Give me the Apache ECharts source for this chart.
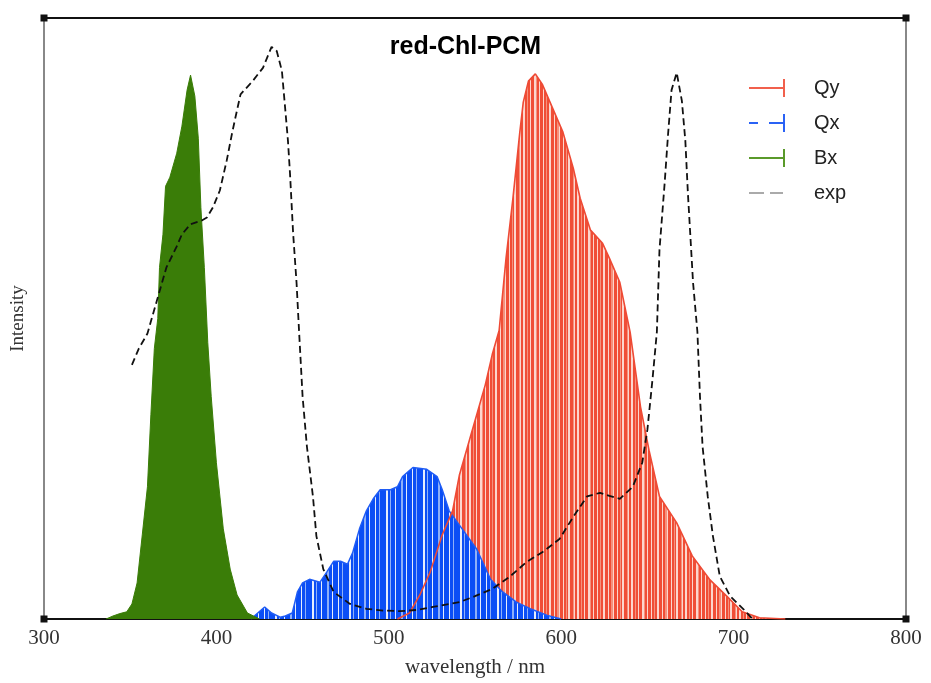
<!DOCTYPE html>
<html><head><meta charset="utf-8">
<script src="https://cdn.jsdelivr.net/npm/echarts@6/dist/echarts.min.js"></script>
<style>html,body{margin:0;padding:0;background:#fff}#c{width:931px;height:683px}</style>
</head><body><div id="c"></div>
<script>
// ---- data (wavelength nm, relative intensity) ----
const bxData = [[336,0],[340,0.005],[344,0.009],[348,0.012],[351,0.025],[354,0.06],[357,0.14],[360,0.22],[362,0.34],[364,0.45],[366,0.5],[367,0.585],[369,0.64],[370.5,0.72],[373,0.735],[377,0.775],[380,0.82],[383,0.88],[385,0.905],[387.5,0.87],[389.5,0.8],[391,0.685],[393,0.585],[395,0.46],[397,0.37],[400,0.26],[404,0.15],[408,0.083],[412,0.04],[418,0.01],[425,0]];
const qxData = [[420,0],[424,0.01],[428,0.02],[432,0.01],[437,0.003],[440,0.005],[444,0.01],[447,0.045],[450,0.06],[454,0.066],[460,0.061],[464,0.078],[468,0.096],[472,0.096],[476,0.091],[479,0.11],[483,0.15],[487,0.18],[491,0.2],[495,0.215],[501,0.215],[505,0.22],[508,0.237],[514,0.252],[522,0.249],[528,0.237],[531,0.215],[535,0.18],[542,0.152],[551,0.116],[559,0.066],[566,0.045],[574,0.028],[582,0.017],[592,0.006],[600,0]];
const qyData = [[505,0],[512,0.01],[518,0.04],[524,0.078],[531,0.14],[537,0.18],[541,0.24],[547,0.3],[551,0.34],[556,0.39],[560,0.44],[564,0.48],[568,0.6],[572,0.7],[576,0.81],[578,0.86],[581,0.895],[585,0.907],[589,0.89],[595,0.85],[601,0.81],[607,0.75],[611,0.7],[617,0.647],[624,0.625],[628,0.6],[634,0.56],[640,0.477],[646,0.353],[651,0.28],[657,0.204],[667,0.16],[676,0.105],[686,0.066],[696,0.038],[705,0.012],[715,0.002],[730,0]];
const expData = [[351,0.423],[355,0.45],[360,0.475],[365.5,0.53],[371,0.585],[377,0.62],[380,0.64],[385,0.657],[391.5,0.663],[394.5,0.668],[398,0.685],[402,0.713],[406,0.763],[409,0.807],[411,0.834],[414,0.873],[421,0.895],[427,0.917],[432,0.952],[435,0.945],[438,0.912],[440,0.846],[441.5,0.796],[442.7,0.741],[444.5,0.642],[446.5,0.559],[448,0.476],[450,0.37],[452.5,0.287],[456,0.204],[458,0.138],[462,0.083],[468,0.045],[477.5,0.025],[487,0.017],[497,0.014],[506.5,0.013],[516,0.015],[525.6,0.02],[541,0.028],[550,0.038],[560,0.05],[570,0.07],[580,0.095],[590,0.113],[599,0.133],[607,0.17],[615,0.204],[622.5,0.21],[628,0.205],[634,0.2],[641.5,0.22],[647,0.26],[650,0.315],[653,0.4],[655.5,0.478],[657,0.614],[660,0.725],[662,0.807],[664,0.88],[667,0.909],[670,0.862],[672,0.796],[673.5,0.708],[676.5,0.559],[679,0.478],[680.5,0.37],[682,0.287],[685,0.204],[688,0.138],[692,0.071],[698,0.038],[705.5,0.017],[711,0]];
const frameCorners = [[300,0],[800,0],[300,1],[800,1]];
const legendNames = ['Qy','Qx','Bx','exp'];
const xRange = [300, 800];
const xStep = 100;

// ---- styles ----
function stripePattern(colors, seq) {
  let w = 0;
  for (let i = 1; i < seq.length; i += 2) w += seq[i];
  const c = document.createElement('canvas');
  c.width = w; c.height = 8;
  const g = c.getContext('2d');
  let x = 0;
  for (let i = 0; i < seq.length; i += 2) {
    g.fillStyle = colors[seq[i]]; g.fillRect(x, 0, seq[i + 1], 8); x += seq[i + 1];
  }
  return { image: c, repeat: 'repeat' };
}
const redPat = stripePattern({ D: '#f04e36', M: '#f5917d', L: '#fcd6cd' },
  ['D',3,'L',1,'D',2,'M',1,'D',2,'L',2,'D',3,'L',1,'D',2,'M',2,'L',1,'D',3,'L',1,'D',2,'M',1,'D',1,'L',2,'D',3,'M',1,'L',1,'D',2,'L',2,'D',2,'M',1,'D',2,'L',1,'D',3,'L',2,'M',1,'D',2,'L',1]);
const bluePat = stripePattern({ D: '#0b4ef5', W: '#e6edfc', L: '#8fb0f8' },
  ['D',5,'W',1,'D',3,'L',1,'D',6,'W',2,'D',2,'L',1,'D',4,'W',1,'D',5,'L',2,'D',3,'W',1]);

const iconSolid = 'path://M0,0L0.01,0.01Z M60,18L59.99,17.99Z M0,8H35V10H0Z M34,0H36V18H34Z';
const iconDashCap = 'path://M0,0L0.01,0.01Z M60,18L59.99,17.99Z M0,8H9V10H0Z M20,8H35V10H20Z M34,0H36V18H34Z';
const iconDash = 'path://M0,0L0.01,0.01Z M60,18L59.99,17.99Z M0,8H15V10H0Z M21,8H34V10H21Z';

const chart = echarts.init(document.getElementById('c'), null, { renderer: 'canvas' });
chart.setOption({
  animation: false,
  backgroundColor: '#fff',
  title: {
    text: 'red-Chl-PCM', left: 'center', top: 30,
    textStyle: { fontFamily: 'Liberation Sans', fontWeight: 'bold', fontSize: 25, color: '#000' }
  },
  grid: { left: 44, right: 25, top: 18, bottom: 62 },
  legend: {
    orient: 'vertical', left: 744, top: 73, itemWidth: 60, itemHeight: 18, itemGap: 15,
    textStyle: { fontFamily: 'Liberation Sans', fontSize: 20, color: '#222', lineHeight: 20 },
    itemStyle: { borderWidth: 0 },
    data: [
      { name: legendNames[0], icon: iconSolid, itemStyle: { color: '#f1604c' } },
      { name: legendNames[1], icon: iconDashCap, itemStyle: { color: '#2a62f5' } },
      { name: legendNames[2], icon: iconSolid, itemStyle: { color: '#5a9a2a' } },
      { name: legendNames[3], icon: iconDash, itemStyle: { color: '#aaaaaa' } }
    ]
  },
  xAxis: [{
    type: 'value', min: xRange[0], max: xRange[1], interval: xStep, position: 'bottom',
    axisLine: { onZero: false, lineStyle: { color: '#111', width: 2 } },
    axisTick: { show: false }, splitLine: { show: false },
    axisLabel: { fontFamily: 'Liberation Serif', fontSize: 21, color: '#333', margin: 9 },
    name: 'wavelength / nm', nameLocation: 'middle', nameGap: 38,
    nameTextStyle: { fontFamily: 'Liberation Serif', fontSize: 21, color: '#333' }
  }, {
    type: 'value', min: xRange[0], max: xRange[1], interval: xStep, position: 'top',
    axisLine: { onZero: false, lineStyle: { color: '#111', width: 2 } },
    axisTick: { show: false }, splitLine: { show: false }, axisLabel: { show: false }
  }],
  yAxis: [{
    type: 'value', min: 0, max: 1, position: 'left',
    axisLine: { show: true, onZero: false, lineStyle: { color: '#888', width: 2 } },
    axisTick: { show: false }, splitLine: { show: false }, axisLabel: { show: false },
    name: 'Intensity', nameLocation: 'middle', nameGap: 16, nameRotate: 90,
    nameTextStyle: { fontFamily: 'Liberation Serif', fontSize: 19, color: '#333' }
  }, {
    type: 'value', min: 0, max: 1, position: 'right',
    axisLine: { show: true, onZero: false, lineStyle: { color: '#888', width: 2 } },
    axisTick: { show: false }, splitLine: { show: false }, axisLabel: { show: false }
  }],
  series: [
    { name: 'Qy', type: 'line', data: qyData, showSymbol: false, symbol: 'none', z: 2,
      itemStyle: { color: '#f1604c' }, lineStyle: { width: 0 },
      areaStyle: { color: redPat, opacity: 1 } },
    { name: 'Qx', type: 'line', data: qxData, showSymbol: false, symbol: 'none', z: 3,
      itemStyle: { color: '#1f5cf5' }, lineStyle: { color: '#1f5cf5', width: 1.5 },
      areaStyle: { color: bluePat, opacity: 1 } },
    { name: 'Qy', type: 'line', data: qyData, showSymbol: false, symbol: 'none', z: 4,
      itemStyle: { color: '#f1604c' }, lineStyle: { color: '#ee4a35', width: 1.6 } },
    { name: 'Bx', type: 'line', data: bxData, showSymbol: false, symbol: 'none', z: 5,
      itemStyle: { color: '#3a7d08' }, lineStyle: { color: '#3a7d08', width: 1 },
      areaStyle: { color: '#3a7d08', opacity: 1 } },
    { name: 'exp', type: 'line', data: expData, showSymbol: false, symbol: 'none', z: 6,
      itemStyle: { color: '#111' }, lineStyle: { color: '#111', width: 1.8, type: [7, 4] },
      markPoint: { symbol: 'rect', symbolSize: 7, silent: true, label: { show: false },
        itemStyle: { color: '#111' },
        data: frameCorners.map(c => ({ coord: c })) } }
  ]
});
</script></body></html>
